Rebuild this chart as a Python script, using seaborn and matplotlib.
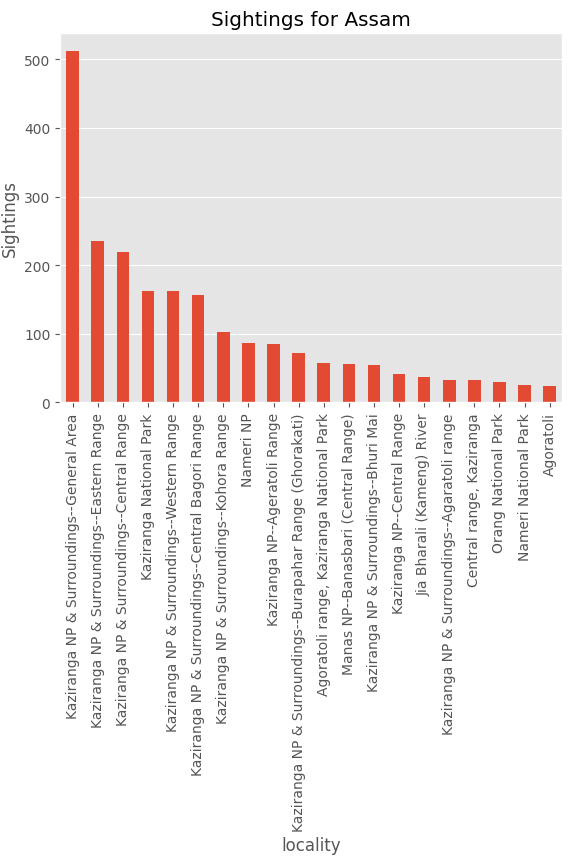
import pandas as pd
import matplotlib
matplotlib.use('Agg')
import matplotlib.pyplot as plt
import seaborn as sns

# Sightings per locality
localities = [
    "Kaziranga NP & Surroundings--General Area",
    "Kaziranga NP & Surroundings--Eastern Range",
    "Kaziranga NP & Surroundings--Central Range",
    "Kaziranga National Park",
    "Kaziranga NP & Surroundings--Western Range",
    "Kaziranga NP & Surroundings--Central Bagori Range",
    "Kaziranga NP & Surroundings--Kohora Range",
    "Nameri NP",
    "Kaziranga NP--Ageratoli Range",
    "Kaziranga NP & Surroundings--Burapahar Range (Ghorakati)",
    "Agoratoli range, Kaziranga National Park",
    "Manas NP--Banasbari (Central Range)",
    "Kaziranga NP & Surroundings--Bhuri Mai",
    "Kaziranga NP--Central Range",
    "Jia Bharali (Kameng) River",
    "Kaziranga NP & Surroundings--Agaratoli range",
    "Central range, Kaziranga",
    "Orang National Park",
    "Nameri National Park",
    "Agoratoli",
]
sightings = [512, 235, 219, 162, 162, 157, 103, 87, 85, 72, 57, 56, 54, 42, 37, 33, 32, 30, 26, 24]

df = pd.DataFrame({'locality': localities, 'Sightings': sightings})

plt.style.use('ggplot')
fig, ax = plt.subplots(figsize=(5.72, 8.62), dpi=100)
sns.barplot(data=df, x='locality', y='Sightings', color='#E24A33', width=0.5,
            saturation=1, ax=ax)
ax.set_title('Sightings for Assam')
ax.set_xlim(-0.5, len(localities) - 0.5)
ax.tick_params(axis='x', rotation=90)
fig.subplots_adjust(left=0.105, right=0.983, top=0.96, bottom=0.532)
fig.savefig('out.png')
